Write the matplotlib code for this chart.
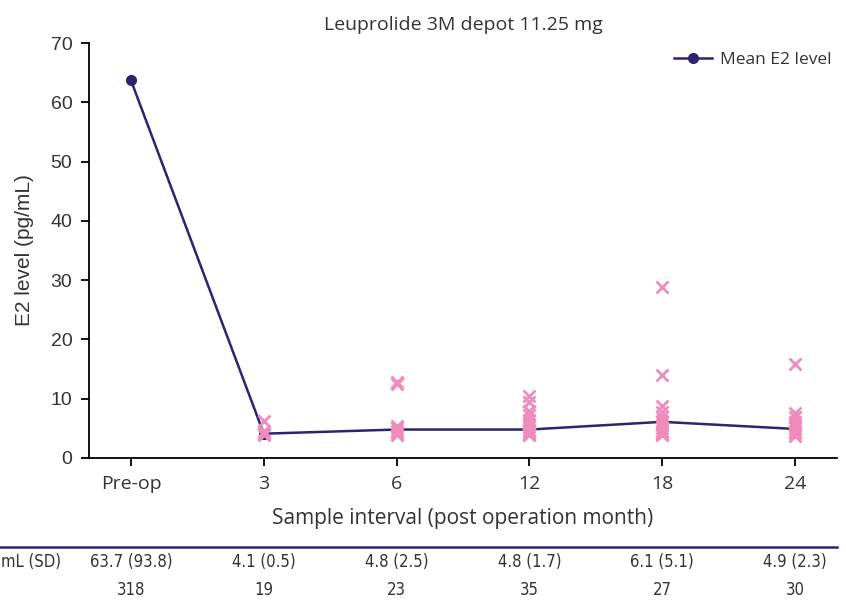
import matplotlib.pyplot as plt
from matplotlib.lines import Line2D

categories = ['Pre-op', '3', '6', '12', '18', '24']
mean_e2 = [63.7, 4.1, 4.8, 4.8, 6.1, 4.9]
sd_e2 = [93.8, 0.5, 2.5, 1.7, 5.1, 2.3]
n_samples = [318, 19, 23, 35, 27, 30]

# individual samples (overlapping ones approximated)
samples_3 = [6.3, 4.5, 4.2, 4.0, 3.8]
samples_6 = [12.9, 12.5, 5.4, 5.0, 4.6, 4.2, 3.9]
samples_12 = [10.5, 9.5, 8.0, 7.3, 6.4, 5.8, 5.2, 4.8, 4.5, 4.2, 4.0, 3.8]
samples_18 = [28.9, 14.0, 8.7, 7.8, 7.0, 6.3, 5.6, 5.0, 4.6, 4.3, 4.0, 3.8]
samples_24 = [15.9, 7.6, 7.0, 6.1, 5.5, 5.0, 4.6, 4.2, 3.7]
samples = [[], samples_3, samples_6, samples_12, samples_18, samples_24]

navy = '#2b2570'
pink = '#ef8cbb'
txt = '#333333'
hum = ['Open Sans', 'DejaVu Sans']
ari = ['Liberation Sans', 'DejaVu Sans']

fig = plt.figure(figsize=(8.46, 6.01), dpi=100)
ax = fig.add_axes([89/846, 1 - 458/601, (837 - 89)/846, (458 - 43)/601])

x = list(range(len(categories)))
ax.plot(x, mean_e2, color=navy, lw=1.8, marker='o', ms=7, label='Mean E2 level', zorder=2)
for i, vals in enumerate(samples):
    ax.plot([i] * len(vals), vals, linestyle='none', marker='x', ms=8.5, mew=2,
            color=pink, zorder=3)

ax.set_xlim(-0.316, 5.316)
ax.set_ylim(0, 70)
ax.set_yticks(range(0, 71, 10))
ax.set_xticks(x)
ax.set_xticklabels(categories, fontsize=14, family=hum, color=txt)
for lab in ax.get_yticklabels():
    lab.set_fontsize(14)
    lab.set_family(ari)
    lab.set_color(txt)
ax.spines['top'].set_visible(False)
ax.spines['right'].set_visible(False)
for s in ['left', 'bottom']:
    ax.spines[s].set_linewidth(1.3)
ax.tick_params(axis='both', length=6, width=1.3, pad=6)

ax.set_ylabel('E2 level (pg/mL)', fontsize=15, family=ari, color=txt, labelpad=12)
ax.set_xlabel('Sample interval (post operation month)', fontsize=15, family=hum,
              color=txt, labelpad=11)
ax.set_title('Leuprolide 3M depot 11.25 mg', fontsize=14, family=hum, color=txt, pad=9)

ax.legend(loc='upper right', bbox_to_anchor=(1.005, 1.0), frameon=False,
          prop={'family': hum, 'size': 12.5}, handlelength=2.2, borderaxespad=0.1,
          handletextpad=0.5, labelcolor=txt)

# table below the chart
tab_font = dict(fontsize=12, family=['DejaVu Sans'], fontstretch='condensed', color=txt)
fig.add_artist(Line2D([0, 837/846], [1 - 547/601, 1 - 547/601], color=navy, lw=1.8))
fig.text(1/846, 1 - 562/601, 'mL (SD)', ha='left', va='center', **tab_font)
for i in x:
    xf = (89 + (i + 0.316) * (837 - 89) / 5.632) / 846
    fig.text(xf, 1 - 562/601, f'{mean_e2[i]} ({sd_e2[i]})', ha='center', va='center',
             **tab_font)
    fig.text(xf, 1 - 590/601, str(n_samples[i]), ha='center', va='center', **tab_font)

fig.savefig('out.png', dpi=100)
